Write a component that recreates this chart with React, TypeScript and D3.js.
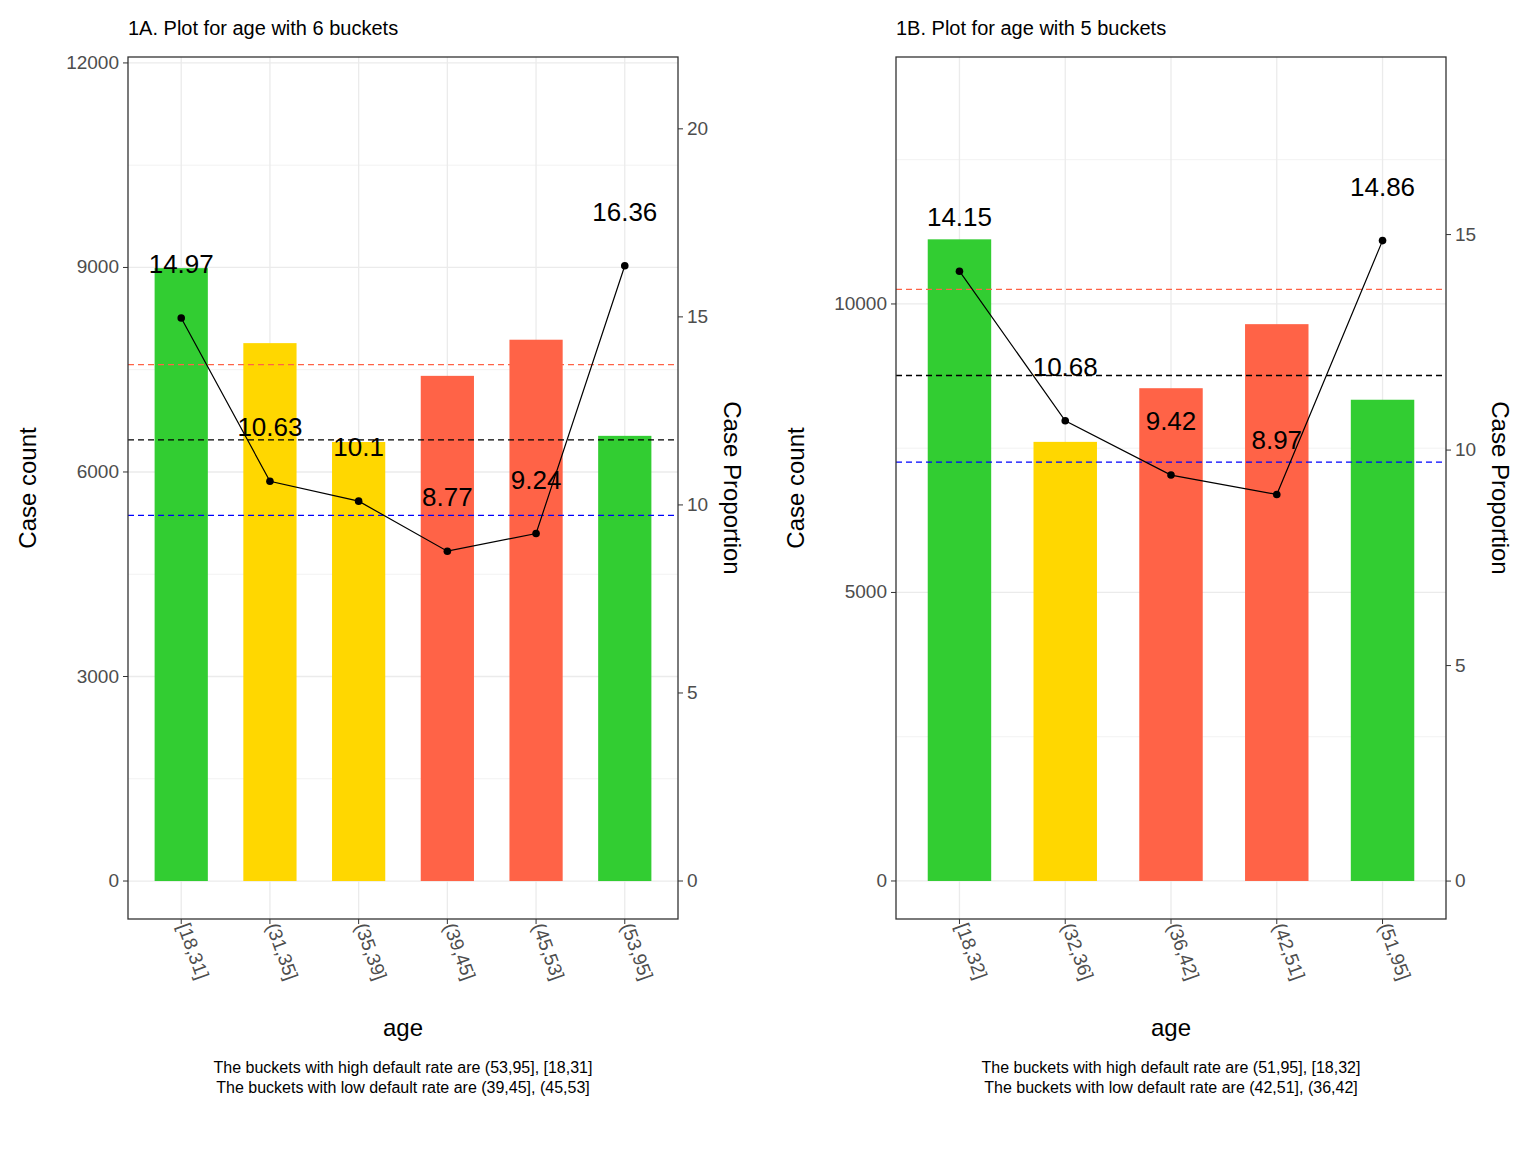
import React from "react";
import * as d3 from "d3";

const catsA = ["[18,31]", "(31,35]", "(35,39]", "(39,45]", "(45,53]", "(53,95]"];
const countsA = [8990, 7890, 6440, 7410, 7940, 6530];
const propsA = [14.97, 10.63, 10.1, 8.77, 9.24, 16.36];
const colorsA = ["#32CD32", "#FFD700", "#FFD700", "#FF6347", "#FF6347", "#32CD32"];
const catsB = ["[18,32]", "(32,36]", "(36,42]", "(42,51]", "(51,95]"];
const countsB = [11120, 7610, 8540, 9650, 8340];
const propsB = [14.15, 10.68, 9.42, 8.97, 14.86];
const colorsB = ["#32CD32", "#FFD700", "#FF6347", "#FF6347", "#32CD32"];
const refLines = [{ v: 13.73, c: "#FF6347" }, { v: 11.73, c: "#000" }, { v: 9.72, c: "#0000FF" }];
const leftTicksA = [0, 3000, 6000, 9000, 12000];
const rightTicksA = [0, 5, 10, 15, 20];
const leftTicksB = [0, 5000, 10000];
const rightTicksB = [0, 5, 10, 15];

type P = {
  x0: number; title: string; cats: string[]; counts: number[]; props: number[]; colors: string[];
  lDom: [number, number]; rDom: [number, number]; lTicks: number[]; rTicks: number[]; step: number;
  cap1: string; cap2: string;
};

const top = 57, bot = 919, W = 550;
const font = "Arial, 'Liberation Sans', sans-serif";

function Panel(p: P) {
  const x = d3.scaleBand().domain(p.cats).range([p.x0, p.x0 + W]).paddingInner(0).paddingOuter(0.1);
  // emulate ggplot discrete expansion of 0.6 units
  const n = p.cats.length;
  const unit = W / (n - 1 + 1.2);
  const cx = (i: number) => p.x0 + unit * (0.6 + i);
  const bw = unit * 0.6;
  const yl = d3.scaleLinear().domain(p.lDom).range([bot, top]);
  const yr = d3.scaleLinear().domain(p.rDom).range([bot, top]);
  const minor: number[] = [];
  for (let i = 0; i < p.lTicks.length; i++) {
    const m = p.lTicks[i] + p.step / 2;
    if (yl(m) > top) minor.push(m);
  }
  const line = d3.line<number>().x((_, i) => cx(i)).y(d => yr(d));
  const mid = p.x0 + W / 2;
  void x;
  return (
    <g>
      <text x={p.x0} y={35} fontSize={20} fill="#000">{p.title}</text>
      {minor.map(m => <line key={"m" + m} x1={p.x0} x2={p.x0 + W} y1={yl(m)} y2={yl(m)} stroke="#f2f2f2" strokeWidth={1} />)}
      {p.lTicks.map(t => <line key={"g" + t} x1={p.x0} x2={p.x0 + W} y1={yl(t)} y2={yl(t)} stroke="#ebebeb" strokeWidth={1.3} />)}
      {p.cats.map((c, i) => <line key={"v" + c} x1={cx(i)} x2={cx(i)} y1={top} y2={bot} stroke="#ebebeb" strokeWidth={1.3} />)}
      {p.counts.map((v, i) => <rect key={"b" + i} x={cx(i) - bw / 2} y={yl(v)} width={bw} height={yl(0) - yl(v)} fill={p.colors[i]} />)}
      {refLines.map(r => <line key={r.c} x1={p.x0} x2={p.x0 + W} y1={yr(r.v)} y2={yr(r.v)} stroke={r.c} strokeDasharray="6,4" strokeWidth={1.3} />)}
      <path d={line(p.props) || ""} fill="none" stroke="#000" strokeWidth={1.2} />
      {p.props.map((v, i) => <circle key={"c" + i} cx={cx(i)} cy={yr(v)} r={3.8} fill="#000" />)}
      {p.props.map((v, i) => <text key={"l" + i} x={cx(i)} y={yr(v) - 45} fontSize={26} textAnchor="middle" fill="#000">{String(v)}</text>)}
      <rect x={p.x0} y={top} width={W} height={bot - top} fill="none" stroke="#333" strokeWidth={1.3} />
      {p.lTicks.map(t => (
        <g key={"lt" + t}>
          <line x1={p.x0 - 5} x2={p.x0} y1={yl(t)} y2={yl(t)} stroke="#333" />
          <text x={p.x0 - 9} y={yl(t) + 6} fontSize={19} textAnchor="end" fill="#4d4d4d">{t}</text>
        </g>
      ))}
      {p.rTicks.map(t => (
        <g key={"rt" + t}>
          <line x1={p.x0 + W} x2={p.x0 + W + 5} y1={yr(t)} y2={yr(t)} stroke="#333" />
          <text x={p.x0 + W + 9} y={yr(t) + 6} fontSize={19} textAnchor="start" fill="#4d4d4d">{t}</text>
        </g>
      ))}
      {p.cats.map((c, i) => (
        <g key={"xt" + c}>
          <line x1={cx(i)} x2={cx(i)} y1={bot} y2={bot + 5} stroke="#333" />
          <text transform={`translate(${cx(i) - 4},${bot + 7}) rotate(70)`} fontSize={19} fill="#4d4d4d">{c}</text>
        </g>
      ))}
      <text x={mid} y={1036} fontSize={24} textAnchor="middle">age</text>
      <text transform={`translate(${p.x0 - 92},${488}) rotate(-90)`} fontSize={24} textAnchor="middle">Case count</text>
      <text transform={`translate(${p.x0 + W + 46},${488}) rotate(90)`} fontSize={24} textAnchor="middle">Case Proportion</text>
      <text x={mid} y={1073} fontSize={16} textAnchor="middle">{p.cap1}</text>
      <text x={mid} y={1093} fontSize={16} textAnchor="middle">{p.cap2}</text>
    </g>
  );
}

export default function App() {
  return (
    <svg width={1536} height={1152} style={{ position: "absolute", left: 0, top: 0, background: "#fff", fontFamily: font }}>
      <rect width={1536} height={1152} fill="#fff" />
      <Panel x0={128} title="1A. Plot for age with 6 buckets" cats={catsA} counts={countsA} props={propsA} colors={colorsA}
        lDom={[-557, 12087]} rDom={[-1.01, 21.91]} lTicks={leftTicksA} rTicks={rightTicksA} step={3000}
        cap1="The buckets with high default rate are (53,95], [18,31]" cap2="The buckets with low default rate are (39,45], (45,53]" />
      <Panel x0={896} title="1B. Plot for age with 5 buckets" cats={catsB} counts={countsB} props={propsB} colors={colorsB}
        lDom={[-659, 14280]} rDom={[-0.88, 19.12]} lTicks={leftTicksB} rTicks={rightTicksB} step={5000}
        cap1="The buckets with high default rate are (51,95], [18,32]" cap2="The buckets with low default rate are (42,51], (36,42]" />
    </svg>
  );
}
